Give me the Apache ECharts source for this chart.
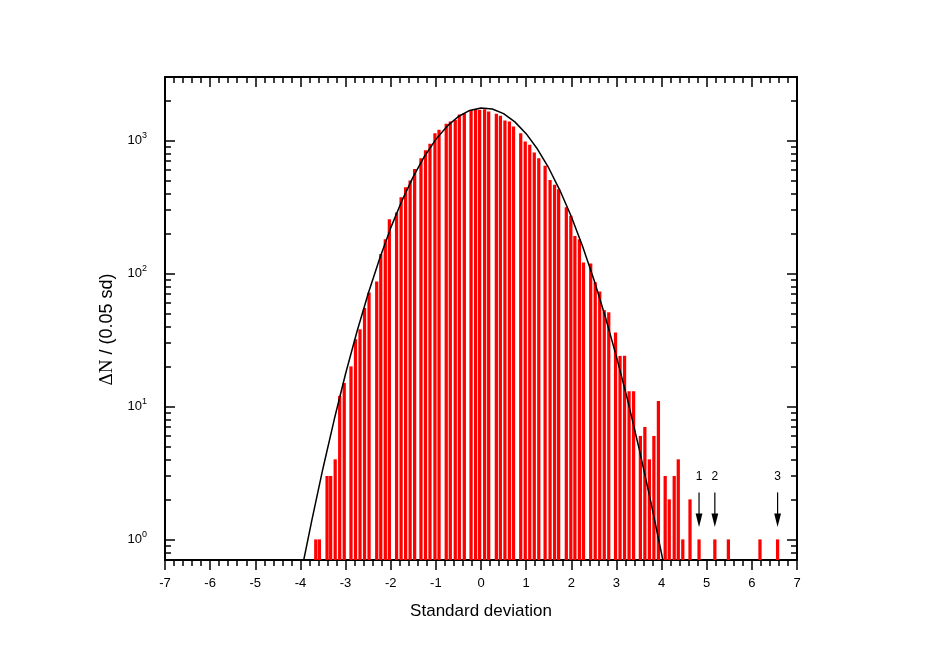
<!DOCTYPE html>
<html><head><meta charset="utf-8">
<script src="https://cdn.jsdelivr.net/npm/echarts@6/dist/echarts.min.js"></script>
<style>html,body{margin:0;padding:0;background:#fff;}#c{width:926px;height:672px;}</style>
</head><body><div id="c"></div>
<script>
// Histogram bars (bin centre in sd, count per bin)
const binX = [-3.66,-3.58,-3.41,-3.33,-3.23,-3.13,-3.03,-2.88,-2.78,-2.68,-2.58,-2.48,-2.31,-2.22,-2.12,-2.03,-1.87,-1.77,-1.67,-1.57,-1.47,-1.33,-1.23,-1.13,-1.02,-0.93,-0.77,-0.68,-0.57,-0.48,-0.37,-0.22,-0.12,-0.03,0.08,0.17,0.34,0.43,0.53,0.63,0.72,0.88,0.98,1.08,1.18,1.28,1.42,1.53,1.63,1.72,1.89,1.99,2.08,2.18,2.27,2.43,2.53,2.63,2.73,2.83,2.98,3.08,3.18,3.28,3.38,3.53,3.63,3.73,3.83,3.93,4.08,4.17,4.28,4.37,4.47,4.63,4.83,5.18,5.48,6.18,6.57];
const counts = [1,1,3,3,4,12,15,20,32,38,55,72,87,140,181,256,287,374,445,499,611,736,845,945,1135,1202,1334,1387,1428,1566,1603,1679,1719,1699,1719,1650,1585,1531,1413,1387,1273,1135,982,927,811,736,644,505,464,430,315,271,191,181,121,119,86,73,53,51,36,24,24,13,13,6,7,4,6,11,3,2,3,4,1,2,1,1,1,1,1];
// Fitted curve
const fitX = [-3.95,-3.75,-3.5,-3.25,-3.0,-2.75,-2.5,-2.25,-2.0,-1.75,-1.5,-1.25,-1.0,-0.75,-0.5,-0.25,0,0.25,0.5,0.75,1.0,1.25,1.5,1.75,2.0,2.25,2.5,2.75,3.0,3.25,3.5,3.75,4.0,4.05];
const fitY = [0.64,1.38,3.43,8.0,17.6,36.3,70.3,128,220,353,535,761,1019,1281,1514,1682,1756,1724,1591,1379,1125,862,621,420,268,160,90.1,47.6,23.7,11.1,4.85,2.0,0.78,0.64];
// Marked outliers
const arrowX = [4.83, 5.18, 6.57];
const arrowLabels = ['1', '2', '3'];
// Axes
const X_MIN = -7, X_MAX = 7, X_INTERVAL = 1;
const Y_MIN = 0.7, Y_MAX = 3000;
const yMajorTicks = [1, 10, 100, 1000];
const yMinorTicks = [0.8,0.9,2,3,4,5,6,7,8,9,20,30,40,50,60,70,80,90,200,300,400,500,600,700,800,900,2000];
const BAR_W = 0.072;

const SANS = 'Liberation Sans, Arial, Helvetica, sans-serif';
const SERIF = 'Liberation Serif, Times New Roman, serif';
const black = '#000';

function xAxisCfg(pos, showLabel, inside) {
  return {
    type: 'value', position: pos, min: X_MIN, max: X_MAX, interval: X_INTERVAL,
    axisLine: { show: true, onZero: false, lineStyle: { color: black, width: 2 } },
    axisTick: { show: true, inside: inside, length: 10, lineStyle: { color: black, width: 1.5 } },
    minorTick: { show: true, splitNumber: 5, length: 6, lineStyle: { color: black, width: 1.5 } },
    axisLabel: { show: showLabel, color: black, fontSize: 13, fontFamily: SANS, margin: 17 },
    splitLine: { show: false }, minorSplitLine: { show: false }
  };
}
function yAxisCfg(pos, major, showLabel, showLine) {
  const c = {
    type: 'log', logBase: 10, position: pos, min: Y_MIN, max: Y_MAX,
    axisLine: { show: showLine, onZero: false, lineStyle: { color: black, width: 2 } },
    axisTick: { show: true, inside: true, length: major ? 10 : 6, customValues: major ? yMajorTicks : yMinorTicks,
                lineStyle: { color: black, width: 1.5 } },
    axisLabel: { show: showLabel },
    splitLine: { show: false }, minorTick: { show: false }
  };
  if (showLabel) {
    c.axisLabel = {
      show: true, customValues: yMajorTicks, margin: 18,
      formatter: v => '{a|10}{b|' + Math.round(Math.log10(v)) + '}',
      rich: {
        a: { fontSize: 13, fontFamily: SANS, color: black },
        b: { fontSize: 9, fontFamily: SANS, color: black, padding: [0, 0, 9, 0] }
      }
    };
    c.name = '{s|\u0394N}{t| / (0.05 sd)}';
    c.nameLocation = 'middle';
    c.nameGap = 48;
    c.nameTextStyle = {
      padding: [0, 22, 0, 0],
      rich: {
        s: { fontFamily: SERIF, fontSize: 19, color: black },
        t: { fontFamily: SANS, fontSize: 18, color: black }
      }
    };
  }
  return c;
}

const xa0 = xAxisCfg('bottom', true, false);
xa0.name = 'Standard deviation';
xa0.nameLocation = 'middle';
xa0.nameGap = 43;
xa0.nameTextStyle = { fontSize: 17, fontFamily: SANS, color: black };

const option = {
  animation: false,
  backgroundColor: '#fff',
  grid: { left: 165, right: 129, top: 77, bottom: 112, containLabel: false, outerBoundsMode: 'none' },
  xAxis: [xa0, xAxisCfg('top', false, true)],
  yAxis: [
    yAxisCfg('left', true, true, true),
    yAxisCfg('left', false, false, false),
    yAxisCfg('right', true, false, true),
    yAxisCfg('right', false, false, false)
  ],
  series: [
    {
      type: 'custom', xAxisIndex: 0, yAxisIndex: 0, clip: true, z: 2,
      data: binX.map((x, i) => [x, counts[i]]),
      encode: { x: 0, y: 1 },
      renderItem: function (params, api) {
        const x = api.value(0), y = api.value(1);
        const top = api.coord([x, y]);
        const bot = api.coord([x, Y_MIN]);
        const l = api.coord([x - BAR_W / 2, y])[0];
        const r = api.coord([x + BAR_W / 2, y])[0];
        return { type: 'rect', shape: { x: l, y: top[1], width: r - l, height: bot[1] - top[1] },
                 style: { fill: '#ff0000' } };
      }
    },
    {
      type: 'line', xAxisIndex: 0, yAxisIndex: 0, z: 3, clip: true,
      data: fitX.map((x, i) => [x, fitY[i]]),
      showSymbol: false, symbol: 'none', smooth: false,
      lineStyle: { color: black, width: 1.5 }
    },
    {
      type: 'custom', xAxisIndex: 0, yAxisIndex: 0, z: 4, clip: false,
      data: arrowX.map(x => [x, 1]),
      encode: { x: 0, y: 1 },
      renderItem: function (params, api) {
        const p = api.coord([api.value(0), api.value(1)]);
        const x = p[0], y = p[1];
        return { type: 'group', children: [
          { type: 'line', shape: { x1: x, y1: y - 47, x2: x, y2: y - 24 }, style: { stroke: black, lineWidth: 1.2 } },
          { type: 'polygon', shape: { points: [[x - 3.4, y - 26], [x + 3.4, y - 26], [x, y - 12.5]] }, style: { fill: black } },
          { type: 'text', style: { text: arrowLabels[params.dataIndex], x: x, y: y - 62.5, align: 'center',
              verticalAlign: 'middle', fontSize: 12, fontFamily: SANS, fill: black } }
        ] };
      }
    }
  ]
};
const chart = echarts.init(document.getElementById('c'), null, { renderer: 'canvas' });
chart.setOption(option);
</script></body></html>
